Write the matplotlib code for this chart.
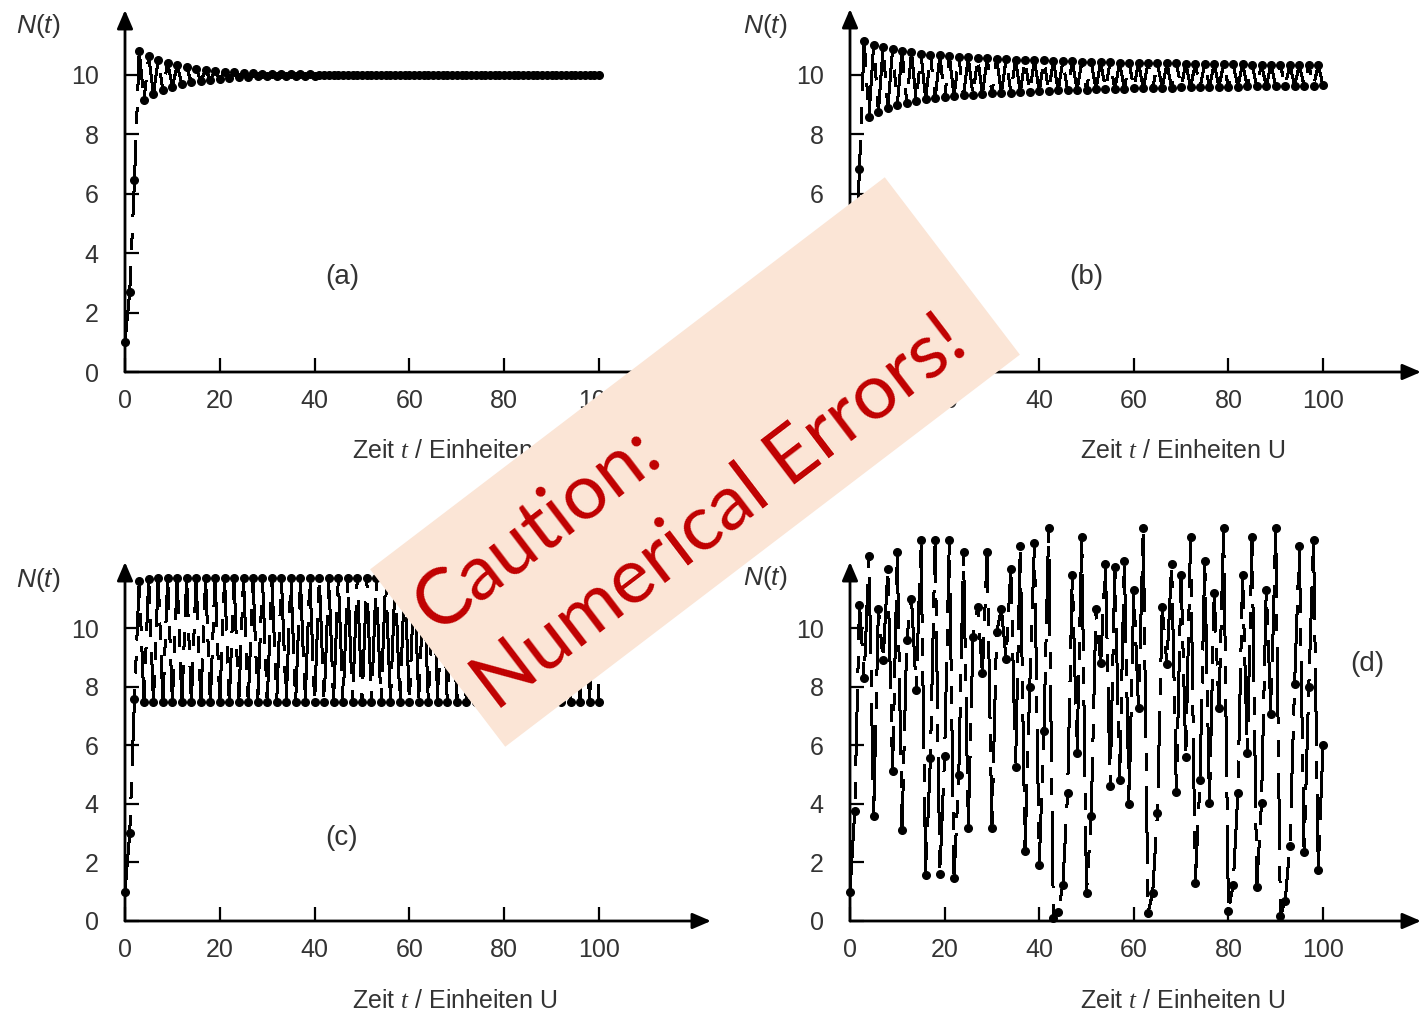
import numpy as np
import matplotlib.pyplot as plt
from matplotlib.patches import Polygon

plt.rcParams['font.family'] = 'Liberation Sans'
plt.rcParams['mathtext.fontset'] = 'custom'
plt.rcParams['mathtext.sf'] = 'Liberation Sans:italic'
plt.rcParams['mathtext.it'] = 'Liberation Serif:italic'
plt.rcParams['mathtext.rm'] = 'Liberation Sans'
plt.rcParams['lines.scale_dashes'] = False

# time steps 0..100
t = np.arange(101)

# (a) damped oscillation towards K = 10
n_a = [1.00, 2.71, 6.46, 10.81, 9.15, 10.63, 9.36, 10.50, 9.50, 10.40,
       9.61, 10.32, 9.69, 10.26, 9.75, 10.21, 9.80, 10.17, 9.84, 10.14,
       9.87, 10.11, 9.90, 10.09, 9.92, 10.07, 9.93, 10.06, 9.95, 10.05,
       9.96, 10.04, 9.96, 10.03, 9.97, 10.03, 9.98, 10.02, 9.98, 10.02,
       9.98, 10.01, 9.99, 10.01, 9.99, 10.01, 9.99, 10.01, 9.99, 10.01,
       10.00, 10.00, 10.00, 10.00, 10.00, 10.00, 10.00, 10.00, 10.00, 10.00,
       10.00, 10.00, 10.00, 10.00, 10.00, 10.00, 10.00, 10.00, 10.00, 10.00,
       10.00, 10.00, 10.00, 10.00, 10.00, 10.00, 10.00, 10.00, 10.00, 10.00,
       10.00, 10.00, 10.00, 10.00, 10.00, 10.00, 10.00, 10.00, 10.00, 10.00,
       10.00, 10.00, 10.00, 10.00, 10.00, 10.00, 10.00, 10.00, 10.00, 10.00,
       10.00]

# (b) slowly damped oscillation
n_b = [1.00, 2.80, 6.83, 11.16, 8.57, 11.02, 8.77, 10.93, 8.90, 10.86,
       9.00, 10.80, 9.07, 10.76, 9.13, 10.72, 9.18, 10.69, 9.22, 10.66,
       9.25, 10.64, 9.28, 10.61, 9.31, 10.60, 9.33, 10.58, 9.36, 10.56,
       9.38, 10.55, 9.39, 10.53, 9.41, 10.52, 9.43, 10.51, 9.44, 10.50,
       9.45, 10.49, 9.46, 10.48, 9.48, 10.47, 9.49, 10.46, 9.50, 10.45,
       9.51, 10.44, 9.52, 10.44, 9.53, 10.43, 9.53, 10.42, 9.54, 10.42,
       9.55, 10.41, 9.55, 10.41, 9.56, 10.40, 9.57, 10.39, 9.57, 10.39,
       9.58, 10.38, 9.59, 10.38, 9.59, 10.38, 9.60, 10.37, 9.60, 10.37,
       9.61, 10.36, 9.61, 10.36, 9.62, 10.35, 9.62, 10.35, 9.62, 10.35,
       9.63, 10.34, 9.63, 10.34, 9.64, 10.34, 9.64, 10.33, 9.64, 10.33,
       9.65]

# (c) two-point cycle
n_c = [1.00, 3.00, 7.58, 11.62, 7.48, 11.68, 7.46, 11.70, 7.46, 11.70,
       7.46, 11.70, 7.46, 11.70, 7.46, 11.70, 7.46, 11.70, 7.46, 11.70,
       7.46, 11.70, 7.46, 11.70, 7.46, 11.70, 7.46, 11.70, 7.46, 11.70,
       7.46, 11.70, 7.46, 11.70, 7.46, 11.70, 7.46, 11.70, 7.46, 11.70,
       7.46, 11.70, 7.46, 11.70, 7.46, 11.70, 7.46, 11.70, 7.46, 11.70,
       7.46, 11.70, 7.46, 11.70, 7.46, 11.70, 7.46, 11.70, 7.46, 11.70,
       7.46, 11.70, 7.46, 11.70, 7.46, 11.70, 7.46, 11.70, 7.46, 11.70,
       7.46, 11.70, 7.46, 11.70, 7.46, 11.70, 7.46, 11.70, 7.46, 11.70,
       7.46, 11.70, 7.46, 11.70, 7.46, 11.70, 7.46, 11.70, 7.46, 11.70,
       7.46, 11.70, 7.46, 11.70, 7.46, 11.70, 7.46, 11.70, 7.46, 11.70,
       7.46]

# (d) chaotic
n_d = [1.00, 3.75, 10.80, 8.30, 12.46, 3.60, 10.65, 8.90, 12.00, 5.13,
       12.60, 3.10, 9.60, 11.00, 7.90, 13.00, 1.57, 5.56, 13.00, 1.60,
       5.63, 13.00, 1.47, 5.00, 12.60, 3.17, 9.70, 10.70, 8.45, 12.60,
       3.17, 9.85, 10.65, 8.94, 12.00, 5.25, 12.80, 2.40, 8.00, 12.90,
       1.90, 6.50, 13.40, 0.10, 0.32, 1.23, 4.36, 11.80, 5.74, 13.10,
       0.95, 3.60, 10.65, 8.80, 12.20, 4.60, 12.07, 4.80, 12.30, 4.00,
       11.30, 7.26, 13.40, 0.28, 0.97, 3.70, 10.70, 8.77, 12.20, 4.40,
       11.80, 5.60, 13.10, 1.29, 4.80, 12.30, 4.04, 11.20, 7.26, 13.40,
       0.35, 1.23, 4.36, 11.80, 5.74, 13.10, 1.17, 4.04, 11.30, 7.06,
       13.40, 0.17, 0.69, 2.56, 8.10, 12.80, 2.37, 8.00, 13.00, 1.74,
       6.00]

W, H = 1424, 1017
fig = plt.figure(figsize=(W / 100, H / 100), dpi=100)
txt = '#333333'


def panel(x0, x1, ybot, ytop, xscale, yscale, vals):
    ax = fig.add_axes([x0 / W, 1 - ybot / H, (x1 - x0) / W, (ybot - ytop) / H])
    xmax = (x1 - x0) / xscale
    ymax = (ybot - ytop) / yscale
    ax.set_xlim(0, xmax)
    ax.set_ylim(0, ymax)
    for s in ax.spines.values():
        s.set_visible(False)
    ax.set_xticks([0, 20, 40, 60, 80, 100])
    ax.set_yticks([0, 2, 4, 6, 8, 10])
    ax.tick_params(axis='x', direction='in', length=10, width=1.6, labelsize=18,
                   pad=12, labelcolor=txt)
    ax.tick_params(axis='y', direction='in', length=10, width=1.6, labelsize=18,
                   pad=19, labelcolor=txt)
    ax.patch.set_alpha(0)
    arrow = dict(arrowstyle='-|>,head_length=0.7,head_width=0.3', lw=2.0,
                 color='black', mutation_scale=16, shrinkA=0, shrinkB=0)
    ax.annotate('', xy=(xmax, 0), xytext=(0, 0), arrowprops=arrow,
                annotation_clip=False)
    ax.annotate('', xy=(0, ymax), xytext=(0, 0), arrowprops=arrow,
                annotation_clip=False)
    ax.plot(t, vals, color='black', lw=1.1, ls=(0, (55, 12, 12, 12)),
            antialiased=False, clip_on=False)
    ax.plot(t, vals, ls='none', color='black', marker='o', ms=5.5,
            clip_on=False)
    return ax


ax_a = panel(125, 711, 372, 10, 4.74, 29.7, n_a)
ax_b = panel(850, 1421, 372, 9, 4.73, 29.7, n_b)
ax_c = panel(125, 711, 921, 562, 4.74, 29.3, n_c)
ax_d = panel(850, 1421, 921, 562, 4.73, 29.3, n_d)


def ftext(x, y, s, **kw):
    fig.text(x / W, 1 - y / H, s, ha='center', va='center', color=txt, **kw)


ylab = r'$\mathsf{N}$($\mathsf{t}$)'
xlab = r'Zeit $t$ / Einheiten U'
for (yx, yy), (xx, xy) in [((38, 26), (455, 451)), ((765, 26), (1183, 451)),
                           ((38, 580), (455, 1001)), ((765, 578), (1183, 1001))]:
    ftext(yx, yy, ylab, fontsize=19)
    ftext(xx, xy, xlab, fontsize=18)

for lab, (x, y) in zip(['(a)', '(b)', '(c)', '(d)'],
                       [(342, 277), (1086, 277), (342, 838), (1367, 664)]):
    ftext(x, y, lab, fontsize=20)

# caution banner on top
ov = fig.add_axes([0, 0, 1, 1], zorder=10)
ov.set_xlim(0, W)
ov.set_ylim(H, 0)
ov.axis('off')
ov.patch.set_alpha(0)

ang = 37.3
c = np.array([695.0, 462.0])
u = np.array([np.cos(np.radians(ang)), -np.sin(np.radians(ang))])
v = np.array([np.sin(np.radians(ang)), np.cos(np.radians(ang))])
bw, bh = 647, 223
corners = [c - u * bw / 2 - v * bh / 2, c + u * bw / 2 - v * bh / 2,
           c + u * bw / 2 + v * bh / 2, c - u * bw / 2 + v * bh / 2]
ov.add_patch(Polygon(corners, closed=True, facecolor='#FBE5D6', edgecolor='none'))

for line, off in [('Caution:', -42), ('Numerical Errors!', 56)]:
    p = c + u * (-310) + v * off
    ov.text(p[0], p[1], line, rotation=ang, rotation_mode='anchor',
            ha='left', va='center', fontsize=56, color='#C00000', family='Lato')

fig.savefig('out.png', dpi=100)
